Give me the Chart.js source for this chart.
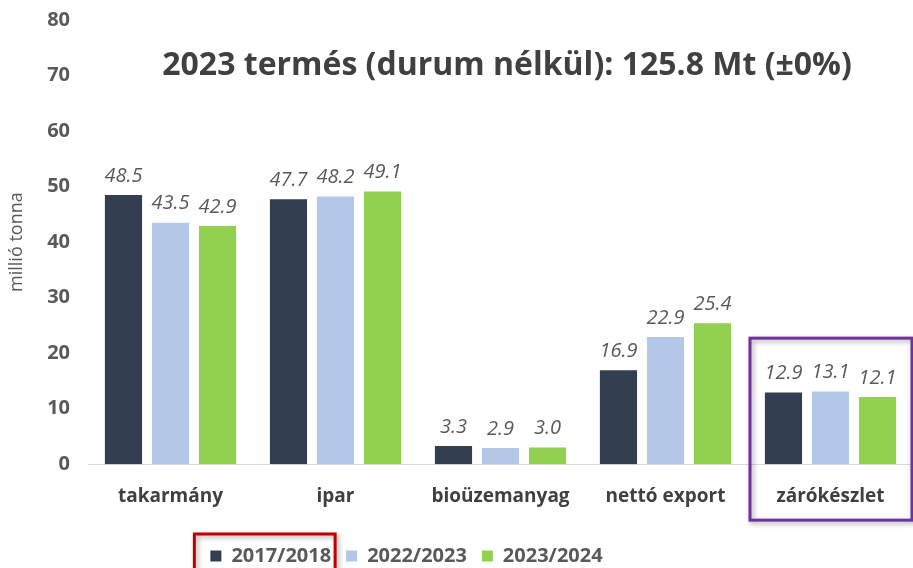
<!DOCTYPE html>
<html>
<head>
<meta charset="utf-8">
<script src="https://cdn.jsdelivr.net/npm/chart.js@4"></script>
<style>
  body { margin: 0; background: #fff; }
  #wrap { width: 913px; height: 568px; position: relative; }
</style>
</head>
<body>
<div id="wrap"><canvas id="bar-chart"></canvas></div>
<script>
// data
var categories = ["takarmány", "ipar", "bioüzemanyag", "nettó export", "zárókészlet"];
var seriesNames = ["2017/2018", "2022/2023", "2023/2024"];
var values1718 = [48.5, 47.7, 3.3, 16.9, 12.9];
var values2223 = [43.5, 48.2, 2.9, 22.9, 13.1];
var values2324 = [42.9, 49.1, 3.0, 25.4, 12.1];
var yTicks = [0, 10, 20, 30, 40, 50, 60, 70, 80];
var chartTitle = "2023 termés (durum nélkül): 125.8 Mt (±0%)";

var colors = ["#333F50", "#B4C7E7", "#92D050"];
var grey = "#595959";

// value labels above the bars
var barLabels = {
  id: 'barLabels',
  afterDatasetsDraw: function(chart) {
    var ctx = chart.ctx;
    ctx.save();
    ctx.font = "italic 20px 'Open Sans'";
    ctx.fillStyle = grey;
    ctx.textAlign = 'center';
    ctx.textBaseline = 'middle';
    chart.data.datasets.forEach(function(ds, i) {
      chart.getDatasetMeta(i).data.forEach(function(bar, j) {
        ctx.fillText(ds.data[j].toFixed(1), bar.x, bar.y - 19);
      });
    });
    ctx.restore();
  }
};

// title inside the plot, boxes around legend item and last category
var extras = {
  id: 'extras',
  afterUpdate: function(chart) {
    // move the legend a bit left and down
    var lg = chart.legend;
    var dx = -50, dy = 10;
    lg.left += dx; lg.right += dx;
    lg.top += dy; lg.bottom += dy;
    lg.legendHitBoxes.forEach(function(hb) {
      hb.left += dx;
      hb.top += dy;
    });
  },
  afterDraw: function(chart) {
    var ctx = chart.ctx;
    var x = chart.scales.x, y = chart.scales.y;
    ctx.save();
    ctx.font = "bold 32px 'Open Sans'";
    ctx.fillStyle = "#404040";
    ctx.textAlign = 'center';
    ctx.textBaseline = 'middle';
    ctx.fillText(chartTitle, 507, y.getPixelForValue(71.8));

    ctx.shadowColor = 'rgba(0,0,0,0.35)';
    ctx.shadowBlur = 5;
    ctx.shadowOffsetX = 2;
    ctx.shadowOffsetY = 2;
    ctx.lineWidth = 3;

    // purple box round the last category
    var step = x.getPixelForValue(1) - x.getPixelForValue(0);
    var cx = x.getPixelForValue(categories.length - 1);
    ctx.strokeStyle = "#7030A0";
    ctx.strokeRect(cx - step / 2 + 2, y.getPixelForValue(22.7), step - 3, 182);

    // red box round first legend item
    var hb = chart.legend.legendHitBoxes[0];
    var cy = hb.top + hb.height / 2;
    ctx.strokeStyle = "#C00000";
    ctx.strokeRect(hb.left - 16, cy - 22, hb.width + 20, 50);
    ctx.restore();
  }
};

new Chart(document.getElementById("bar-chart"), {
  type: 'bar',
  data: {
    labels: categories,
    datasets: [
      { label: seriesNames[0], data: values1718, backgroundColor: colors[0] },
      { label: seriesNames[1], data: values2223, backgroundColor: colors[1] },
      { label: seriesNames[2], data: values2324, backgroundColor: colors[2] }
    ]
  },
  options: {
    responsive: true,
    maintainAspectRatio: false,
    animation: false,
    categoryPercentage: 0.855,
    barPercentage: 0.79,
    layout: { padding: { top: 0, right: 0, left: 0, bottom: 2 } },
    plugins: {
      tooltip: { enabled: false },
      legend: {
        position: 'bottom',
        labels: {
          boxWidth: 11,
          boxHeight: 11,
          color: grey,
          padding: 15,
          font: { family: "'Open Sans'", size: 20, weight: 'bold' }
        }
      }
    },
    scales: {
      x: {
        grid: { display: false, tickLength: 8 },
        border: { color: "#D9D9D9", width: 1 },
        ticks: {
          color: "#404040",
          padding: 13,
          font: { family: "'Open Sans'", size: 19, weight: 'bold' }
        }
      },
      y: {
        min: 0,
        max: 80,
        afterBuildTicks: function(axis) {
          axis.ticks = yTicks.map(function(v) { return { value: v }; });
        },
        afterFit: function(axis) {
          axis.width = 88;
        },
        grid: { display: false, tickLength: 10 },
        border: { display: false },
        title: {
          display: true,
          text: "millió tonna",
          color: grey,
          font: { family: "'Open Sans'", size: 18 },
          padding: { top: 6, bottom: 0 }
        },
        ticks: {
          color: grey,
          padding: 8,
          font: { family: "'Open Sans'", size: 20, weight: 'bold' }
        }
      }
    }
  },
  plugins: [barLabels, extras]
});
</script>
</body>
</html>
